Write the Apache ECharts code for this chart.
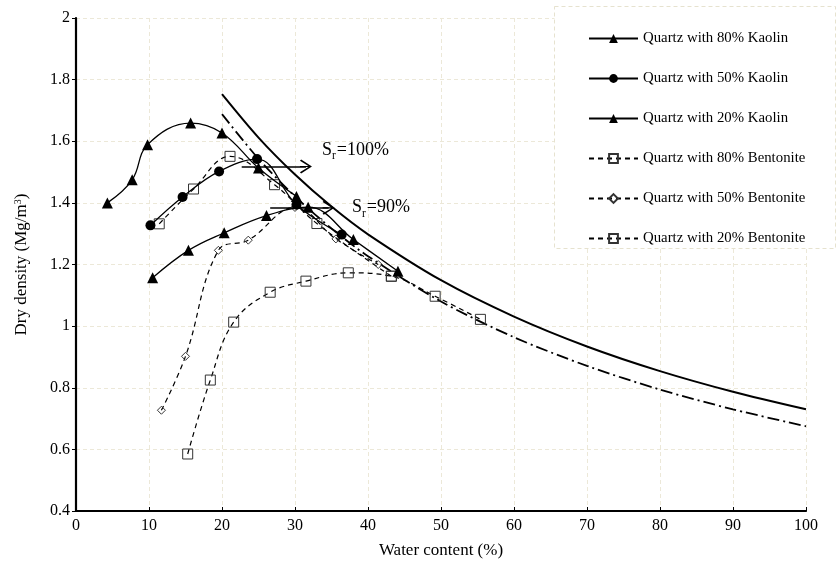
<!DOCTYPE html>
<html>
<head>
<meta charset="utf-8">
<script src="https://cdn.jsdelivr.net/npm/echarts@6/dist/echarts.min.js"></script>
<style>
  html, body { margin: 0; padding: 0; background: #fff; }
  #chart { width: 838px; height: 564px; }
</style>
</head>
<body>
<div id="chart"></div>
<script>
// Compaction curves: [water content (%), dry density (Mg/m3)]
const kaolin80 = [[4.3, 1.400], [7.7, 1.475], [9.8, 1.589], [15.7, 1.659], [20.0, 1.627], [25.0, 1.513], [30.2, 1.421]];
const kaolin50 = [[10.2, 1.327], [14.6, 1.419], [19.6, 1.502], [24.8, 1.542], [30.2, 1.394], [36.4, 1.297]];
const kaolin20 = [[10.5, 1.157], [15.4, 1.246], [20.3, 1.303], [26.1, 1.359], [31.8, 1.386], [38.0, 1.281], [44.1, 1.178]];
const bentonite80 = [[11.4, 1.332], [16.1, 1.445], [21.1, 1.551], [27.2, 1.459], [33.0, 1.333], [43.2, 1.162]];
const bentonite50 = [[11.7, 0.727], [15.0, 0.902], [19.5, 1.246], [23.6, 1.279], [30.0, 1.385], [35.6, 1.283], [41.4, 1.200]];
const bentonite20 = [[15.3, 0.585], [18.4, 0.825], [21.6, 1.013], [26.6, 1.110], [31.5, 1.146], [37.3, 1.173], [43.2, 1.162], [49.2, 1.097], [55.4, 1.022]];

// Saturation lines (Sr = 100% and Sr = 90%)
const satWater = [20, 25, 30, 35, 40, 50, 60, 70, 80, 90, 100];
const sat100 = [1.753, 1.612, 1.492, 1.388, 1.298, 1.149, 1.031, 0.934, 0.854, 0.787, 0.730];
const sat90 = [1.688, 1.543, 1.421, 1.317, 1.227, 1.080, 0.964, 0.871, 0.794, 0.730, 0.675];

// Axis ticks
const xTicks = { min: 0, max: 100, step: 10 };
const yTicks = { min: 0.4, max: 2, step: 0.2 };

const seriesNames = [
  'Quartz with 80% Kaolin',
  'Quartz with 50% Kaolin',
  'Quartz with 20% Kaolin',
  'Quartz with 80% Bentonite',
  'Quartz with 50% Bentonite',
  'Quartz with 20% Bentonite'
];

const FONT = '"Liberation Serif", "Times New Roman", serif';
// open arrow head with a short stem, pointing along the line
const chevron = 'path://M7,0 L14,10.8 L12.8,12 L7.6,3.6 L7.6,12 L6.4,12 L6.4,3.6 L1.2,12 L0,10.8 Z';

const zip = (xs, ys) => xs.map((x, i) => [x, ys[i]]);

function solidSeries(name, data, symbol, size) {
  return {
    name, type: 'line', data, smooth: 0.4,
    symbol, symbolSize: size,
    itemStyle: { color: '#000' },
    lineStyle: { color: '#000', width: 1.3 },
    z: 4
  };
}
function dashedSeries(name, data, symbol, size) {
  return {
    name, type: 'line', data, smooth: 0.4,
    symbol, symbolSize: size,
    itemStyle: { color: 'rgba(255,255,255,0)', borderColor: '#333', borderWidth: 1 },
    lineStyle: { color: '#000', width: 1.2, type: [5, 4] },
    z: 3
  };
}

const chart = echarts.init(document.getElementById('chart'));
chart.setOption({
  animation: false,
  backgroundColor: '#fff',
  grid: { left: 76, right: 32, top: 18, bottom: 52 },
  graphic: [{
    type: 'rect', left: 554, top: 6, z: 3,
    shape: { width: 281, height: 242 },
    style: { fill: '#fff', stroke: '#e6e2cf', lineWidth: 1, lineDash: [4, 3] }
  }],
  legend: {
    data: seriesNames,
    orient: 'vertical', left: 588, top: 31, padding: 0,
    itemWidth: 49, itemHeight: 11, itemGap: 25,
    textStyle: { fontFamily: FONT, fontSize: 14.8, color: '#000' },
    z: 5
  },
  xAxis: {
    type: 'value', min: xTicks.min, max: xTicks.max, interval: xTicks.step,
    name: 'Water content (%)', nameLocation: 'middle', nameGap: 31,
    nameTextStyle: { fontFamily: FONT, fontSize: 17, color: '#000' },
    axisLine: { show: true, lineStyle: { color: '#000', width: 2.2 } },
    axisTick: { show: true, inside: true, length: 4, lineStyle: { color: '#000', width: 1 } },
    axisLabel: { fontFamily: FONT, fontSize: 16, color: '#000', margin: 7 },
    splitLine: { show: true, lineStyle: { color: '#ece8d8', width: 1, type: [4, 3] } }
  },
  yAxis: {
    type: 'value', min: yTicks.min, max: yTicks.max, interval: yTicks.step,
    name: '{a|Dry density (Mg/m}{b|3}{a|)}', nameLocation: 'middle', nameGap: 46,
    nameTextStyle: {
      rich: {
        a: { fontFamily: FONT, fontSize: 17, color: '#000', verticalAlign: 'bottom', lineHeight: 17 },
        b: { fontFamily: FONT, fontSize: 10, color: '#000', verticalAlign: 'top', lineHeight: 10 }
      }
    },
    axisLine: { show: true, lineStyle: { color: '#000', width: 2.2 } },
    axisTick: { show: true, inside: false, length: 4, lineStyle: { color: '#000', width: 1 } },
    axisLabel: { fontFamily: FONT, fontSize: 16, color: '#000', margin: 6 },
    splitLine: { show: true, lineStyle: { color: '#ece8d8', width: 1, type: [4, 3] } }
  },
  series: [
    {
      name: 'Sr100', type: 'line', data: zip(satWater, sat100), smooth: 0.3,
      symbol: 'none', lineStyle: { color: '#000', width: 2 }, z: 2, silent: true,
      markLine: {
        silent: true, symbol: ['none', chevron], symbolSize: [14, 12],
        lineStyle: { color: '#000', width: 1.5, type: 'solid' },
        label: { show: false },
        data: [
          [{ coord: [22.7, 1.518] }, { coord: [31.5, 1.518] }],
          [{ coord: [26.6, 1.384] }, { coord: [34.6, 1.384] }]
        ]
      },
      markPoint: {
        silent: true, symbol: 'circle', symbolSize: 0,
        label: {
          show: true, position: 'right', distance: 0,
          rich: {
            a: { fontFamily: FONT, fontSize: 18, color: '#000', verticalAlign: 'top', lineHeight: 18 },
            b: { fontFamily: FONT, fontSize: 11.5, color: '#000', verticalAlign: 'top', lineHeight: 11.5, padding: [9.5, 1, 0, 0] }
          }
        },
        data: [
          { coord: [33.7, 1.572], label: { formatter: '{a|S}{b|r}{a|=100%}' } },
          { coord: [37.8, 1.385], label: { formatter: '{a|S}{b|r}{a|=90%}' } }
        ]
      }
    },
    {
      name: 'Sr90', type: 'line', data: zip(satWater, sat90), smooth: 0.3,
      symbol: 'none', lineStyle: { color: '#000', width: 1.8, type: [12, 4, 2, 4] }, z: 2, silent: true
    },
    solidSeries(seriesNames[0], kaolin80, 'triangle', 11),
    solidSeries(seriesNames[1], kaolin50, 'circle', 10),
    solidSeries(seriesNames[2], kaolin20, 'triangle', 11),
    dashedSeries(seriesNames[3], bentonite80, 'rect', 10),
    dashedSeries(seriesNames[4], bentonite50, 'diamond', 8),
    dashedSeries(seriesNames[5], bentonite20, 'rect', 10)
  ]
});
</script>
</body>
</html>
